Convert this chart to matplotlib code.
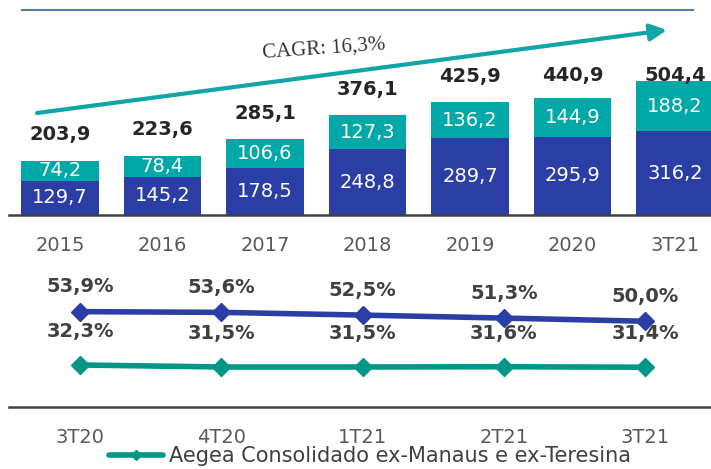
import matplotlib
matplotlib.use("Agg")
from matplotlib import pyplot as plt
from matplotlib.lines import Line2D
import numpy as np

plt.rcParams['font.family'] = ['DejaVu Sans']

# bar chart data
years = ['2015', '2016', '2017', '2018', '2019', '2020', '3T21']
blueVals = [129.7, 145.2, 178.5, 248.8, 289.7, 295.9, 316.2]
tealVals = [74.2, 78.4, 106.6, 127.3, 136.2, 144.9, 188.2]
totals = [203.9, 223.6, 285.1, 376.1, 425.9, 440.9, 504.4]
cagrText = 'CAGR: 16,3%'

# line chart data
quarters = ['3T20', '4T20', '1T21', '2T21', '3T21']
blueLine = [53.9, 53.6, 52.5, 51.3, 50.0]
tealLine = [32.3, 31.5, 31.5, 31.6, 31.4]
legendLabel = 'Aegea Consolidado ex-Manaus e ex-Teresina'

darkBlue = '#2b3ea6'
tealBar = '#00a8a8'
tealLn = '#009688'
greyTxt = '#595959'

W, H = 711, 469
fig = plt.figure(figsize=(W / 100, H / 100), dpi=100)

# --- top: stacked bars ---
ax1 = fig.add_axes([8.75 / W, (H - 215) / H, (W - 8.75) / W, 215 / H])
x = np.arange(len(years))
ax1.bar(x, blueVals, width=0.76, color=darkBlue, zorder=2)
ax1.bar(x, tealVals, width=0.76, bottom=blueVals, color=tealBar, zorder=2)
ax1.set_xlim(-0.5, -0.5 + (W - 8.75) / 102.5)
ax1.set_ylim(0, 811)

for i in range(len(years)):
    ax1.text(x[i], blueVals[i] / 2, f'{blueVals[i]:.1f}'.replace('.', ','),
             ha='center', va='center', color='white', fontsize=14)
    ax1.text(x[i], blueVals[i] + tealVals[i] / 2, f'{tealVals[i]:.1f}'.replace('.', ','),
             ha='center', va='center', color='white', fontsize=14)
    ax1.text(x[i], min(totals[i] + 98, 525), f'{totals[i]:.1f}'.replace('.', ','),
             ha='center', va='center', color='#262626', fontsize=14, fontweight='bold')

for s in ['top', 'right', 'left']:
    ax1.spines[s].set_visible(False)
ax1.spines['bottom'].set_color('#404040')
ax1.spines['bottom'].set_linewidth(1.8)
ax1.set_yticks([])
ax1.set_xticks(x)
ax1.set_xticklabels(years, fontsize=14, color=greyTxt)
ax1.tick_params(axis='x', length=0, pad=15)
ax1.patch.set_alpha(0)

# CAGR arrow
ax1.annotate('', xy=(667 / W, 1 - 30 / H), xytext=(37 / W, 1 - 113 / H),
             xycoords='figure fraction', textcoords='figure fraction',
             arrowprops=dict(arrowstyle='-|>,head_length=1.0,head_width=0.5',
                             color='#11a5a5', lw=3, shrinkA=0, shrinkB=0))
fig.text(324 / W, 1 - 49 / H, cagrText, ha='center', va='center', rotation=4,
         fontsize=15, color='#333333', family='Liberation Serif')

# top rule
fig.add_artist(Line2D([22 / W, 693 / W], [1 - 10 / H, 1 - 10 / H],
                      color='#5b7aa0', lw=1.5))

# --- bottom: lines ---
ax2 = fig.add_axes([9.4 / W, (H - 407) / H, (W - 9.4) / W, 147 / H])
xq = np.arange(len(quarters))
ax2.plot(xq, blueLine, color=darkBlue, lw=4, marker='D', ms=9,
         solid_capstyle='round')
ax2.plot(xq, tealLine, color=tealLn, lw=4, marker='D', ms=9,
         solid_capstyle='round', label=legendLabel)
ax2.set_xlim(-0.5, -0.5 + (W - 9.4) / 141.25)
ax2.set_ylim(15.3, 74.8)

for i in range(len(quarters)):
    ax2.annotate(f'{blueLine[i]:.1f}%'.replace('.', ','), (xq[i], blueLine[i]),
                 xytext=(0, 18), textcoords='offset points', ha='center', va='center',
                 fontsize=14, fontweight='bold', color='#404040')
    ax2.annotate(f'{tealLine[i]:.1f}%'.replace('.', ','), (xq[i], tealLine[i]),
                 xytext=(0, 24), textcoords='offset points', ha='center', va='center',
                 fontsize=14, fontweight='bold', color='#404040')

for s in ['top', 'right', 'left']:
    ax2.spines[s].set_visible(False)
ax2.spines['bottom'].set_color('#404040')
ax2.spines['bottom'].set_linewidth(1.8)
ax2.set_yticks([])
ax2.set_xticks(xq)
ax2.set_xticklabels(quarters, fontsize=14, color=greyTxt)
ax2.tick_params(axis='x', length=0, pad=15)
ax2.patch.set_alpha(0)

leg = ax2.legend(loc='center', bbox_to_anchor=(370 / W, 1 - 456 / H),
                 bbox_transform=fig.transFigure, frameon=False, fontsize=15,
                 handlelength=2.6, handletextpad=0.25, markerscale=0.6,
                 labelcolor='#404040', borderpad=0, borderaxespad=0)

fig.savefig('out.png', dpi=100)
